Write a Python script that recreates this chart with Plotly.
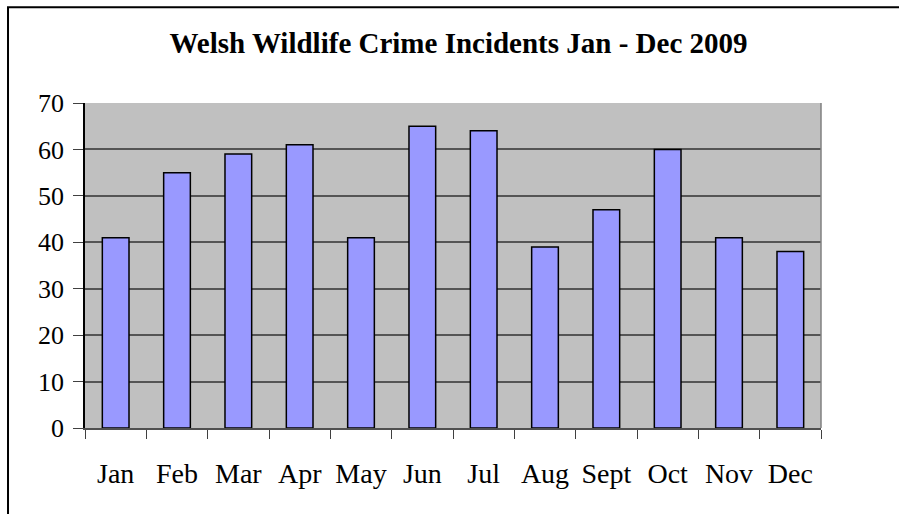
import plotly.graph_objects as go

months = ["Jan", "Feb", "Mar", "Apr", "May", "Jun", "Jul", "Aug", "Sept", "Oct", "Nov", "Dec"]
incidents = [41, 55, 59, 61, 41, 65, 64, 39, 47, 60, 41, 38]
y_ticks = [0, 10, 20, 30, 40, 50, 60, 70]

FONT = "Liberation Serif"

fig = go.Figure(go.Bar(
    x=months, y=incidents,
    marker=dict(color="#9999FF", line=dict(color="black", width=1.5)),
    width=0.435,
))

fig.update_layout(
    width=899, height=514,
    margin=dict(l=85, r=78, t=103, b=86),
    paper_bgcolor="white",
    plot_bgcolor="#C0C0C0",
    showlegend=False,
    title=dict(
        text="<b>Welsh Wildlife Crime Incidents Jan - Dec 2009</b>",
        font=dict(family=FONT, size=29, color="black"),
        x=0.51, xanchor="center", y=0.917, yanchor="middle",
    ),
    font=dict(family=FONT, color="black"),
)

fig.update_yaxes(
    range=[0, 70], tickvals=y_ticks,
    showgrid=True, gridcolor="#555555", gridwidth=1.5,
    zeroline=False,
    showline=True, linecolor="black", linewidth=1.5,
    ticks="outside", ticklen=10, tickcolor="#404040",
    tickfont=dict(family=FONT, size=26, color="black"),
    ticklabelstandoff=4,
)
fig.update_xaxes(
    showgrid=False,
    showline=True, linecolor="#505050", linewidth=1.5,
    ticks="outside", tickson="boundaries", ticklen=9, tickcolor="#404040",
    tickfont=dict(family=FONT, size=28, color="black"),
    ticklabelstandoff=20,
)

# right edge of plot area
fig.add_shape(type="line", xref="paper", yref="paper", x0=1, x1=1, y0=0, y1=1,
              line=dict(color="#808080", width=1.5))
# outer chart frame
fig.add_shape(type="rect", xref="paper", yref="paper",
              x0=-0.1046, x1=1.3, y0=-0.5, y1=1.295,
              line=dict(color="black", width=2), layer="above")

fig.write_html("out.html", config={"displayModeBar": False},
               post_script="document.body.style.margin='0';document.body.style.overflow='hidden';")
